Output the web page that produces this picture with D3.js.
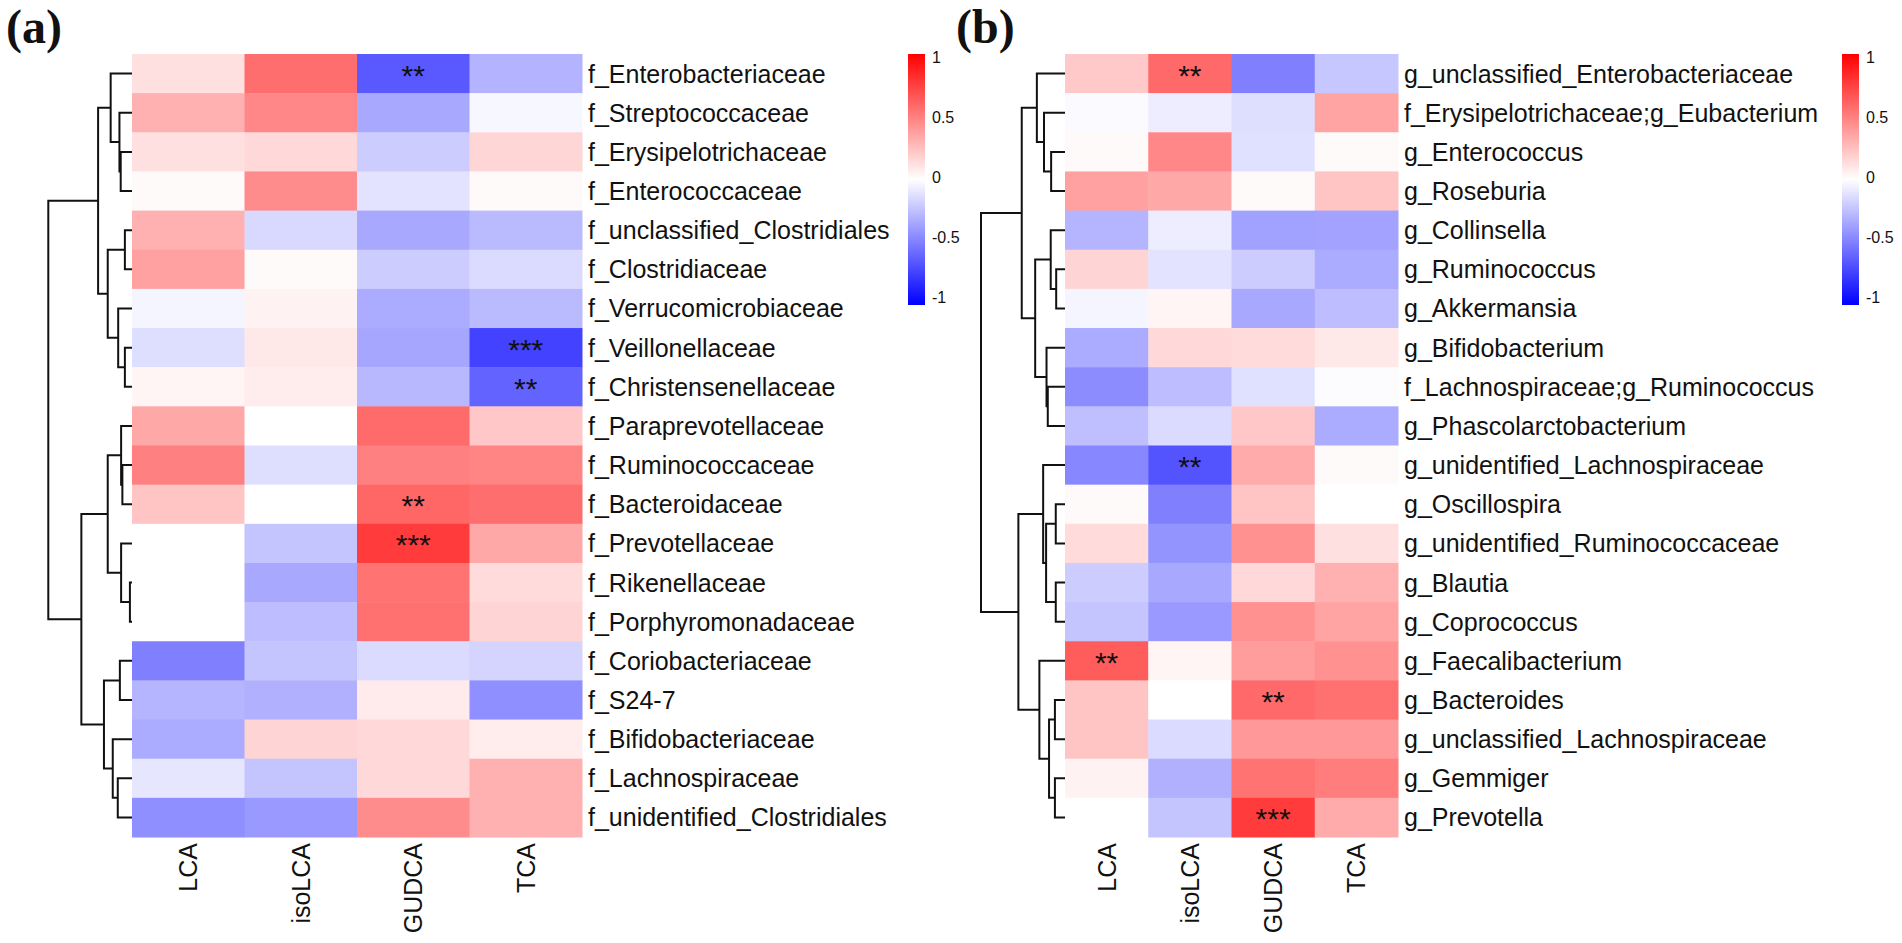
<!DOCTYPE html>
<html>
<head>
<meta charset="utf-8">
<script src="https://cdn.jsdelivr.net/npm/d3@7"></script>
<style>
  body { margin: 0; background: #fff; }
  svg { display: block; }
  text { font-family: "Liberation Sans", Arial, Helvetica, sans-serif; }
</style>
</head>
<body>
<svg id="chart"></svg>
<script>
// columns (bile acids)
const acids = ["LCA", "isoLCA", "GUDCA", "TCA"];

// panel (a) - families, in dendrogram order
const familyRows = [
  "f_Enterobacteriaceae", "f_Streptococcaceae", "f_Erysipelotrichaceae", "f_Enterococcaceae",
  "f_unclassified_Clostridiales", "f_Clostridiaceae", "f_Verrucomicrobiaceae", "f_Veillonellaceae",
  "f_Christensenellaceae", "f_Paraprevotellaceae", "f_Ruminococcaceae", "f_Bacteroidaceae",
  "f_Prevotellaceae", "f_Rikenellaceae", "f_Porphyromonadaceae", "f_Coriobacteriaceae",
  "f_S24-7", "f_Bifidobacteriaceae", "f_Lachnospiraceae", "f_unidentified_Clostridiales"
];
// correlation values  [LCA, isoLCA, GUDCA, TCA]
const familyValues = [
  [ 0.12,  0.57, -0.65, -0.30],
  [ 0.31,  0.47, -0.34, -0.03],
  [ 0.12,  0.15, -0.20,  0.16],
  [ 0.02,  0.45, -0.11,  0.02],
  [ 0.31, -0.15, -0.34, -0.27],
  [ 0.37,  0.02, -0.20, -0.14],
  [-0.04,  0.05, -0.33, -0.27],
  [-0.13,  0.09, -0.35, -0.74],
  [ 0.04,  0.07, -0.28, -0.61],
  [ 0.34,  0.00,  0.58,  0.22],
  [ 0.50, -0.13,  0.50,  0.48],
  [ 0.23,  0.00,  0.60,  0.57],
  [ 0.00, -0.23,  0.77,  0.34],
  [ 0.00, -0.34,  0.55,  0.14],
  [ 0.00, -0.26,  0.56,  0.17],
  [-0.50, -0.23, -0.14, -0.17],
  [-0.29, -0.31,  0.08, -0.44],
  [-0.33,  0.17,  0.15,  0.07],
  [-0.10, -0.23,  0.15,  0.31],
  [-0.44, -0.40,  0.45,  0.31]
];
// [row, column, mark]
const familyStars = [[0, 2, "**"], [7, 3, "***"], [8, 3, "**"], [11, 2, "**"], [12, 2, "***"]];
// hclust-style merges: negative = leaf (row index + 1), positive = earlier merge, then height
const familyMerge = [
  [-3, -4, 0.27], [-2, 1, 0.30], [-1, 2, 0.51],
  [-5, -6, 0.17], [-8, -9, 0.17], [-7, 5, 0.33], [4, 6, 0.58], [3, 7, 0.81],
  [-11, -12, 0.23], [-10, 9, 0.26], [-14, -15, 0.05], [-13, 11, 0.26], [10, 12, 0.58],
  [-16, -17, 0.29], [-19, -20, 0.34], [-18, 15, 0.46], [14, 16, 0.67],
  [13, 17, 1.21], [8, 18, 2.00]
];

// panel (b) - genera
const genusRows = [
  "g_unclassified_Enterobacteriaceae", "f_Erysipelotrichaceae;g_Eubacterium", "g_Enterococcus",
  "g_Roseburia", "g_Collinsella", "g_Ruminococcus", "g_Akkermansia", "g_Bifidobacterium",
  "f_Lachnospiraceae;g_Ruminococcus", "g_Phascolarctobacterium", "g_unidentified_Lachnospiraceae",
  "g_Oscillospira", "g_unidentified_Ruminococcaceae", "g_Blautia", "g_Coprococcus",
  "g_Faecalibacterium", "g_Bacteroides", "g_unclassified_Lachnospiraceae", "g_Gemmiger", "g_Prevotella"
];
const genusValues = [
  [ 0.21,  0.59, -0.50, -0.22],
  [-0.02, -0.07, -0.13,  0.36],
  [ 0.02,  0.47, -0.12,  0.02],
  [ 0.37,  0.34,  0.02,  0.23],
  [-0.29, -0.07, -0.37, -0.36],
  [ 0.17, -0.11, -0.20, -0.33],
  [-0.04,  0.04, -0.34, -0.26],
  [-0.33,  0.15,  0.14,  0.09],
  [-0.45, -0.26, -0.12, -0.01],
  [-0.25, -0.14,  0.22, -0.33],
  [-0.47, -0.67,  0.33,  0.02],
  [ 0.02, -0.50,  0.23,  0.00],
  [ 0.14, -0.42,  0.43,  0.12],
  [-0.20, -0.34,  0.15,  0.31],
  [-0.23, -0.40,  0.43,  0.36],
  [ 0.64,  0.04,  0.39,  0.43],
  [ 0.23,  0.00,  0.59,  0.56],
  [ 0.23, -0.14,  0.40,  0.40],
  [ 0.05, -0.31,  0.55,  0.51],
  [ 0.00, -0.23,  0.77,  0.33]
];
const genusStars = [[0, 1, "**"], [10, 1, "**"], [15, 0, "**"], [16, 2, "**"], [19, 2, "***"]];
const genusMerge = [
  [-3, -4, 0.33], [-2, 1, 0.50], [-1, 2, 0.67],
  [-6, -7, 0.21], [-5, 4, 0.34], [-9, -10, 0.41], [-8, 6, 0.44], [5, 7, 0.71], [3, 8, 1.03],
  [-12, -13, 0.22], [-14, -15, 0.22], [10, 11, 0.45], [-11, 12, 0.52],
  [-17, -18, 0.24], [-19, -20, 0.24], [14, 15, 0.38], [-16, 16, 0.61],
  [13, 17, 1.11], [9, 18, 2.00]
];

const legendTicks = [1, 0.5, 0, -0.5, -1];

// ---- layout ----
const W = 1902, H = 943;
const gridTop = 54, gridBottom = 837;

const svg = d3.select("#chart").attr("width", W).attr("height", H);

const color = d3.scaleLinear()
  .domain([-1, 0, 1])
  .range(["#0000ff", "#ffffff", "#ff0000"]);

function drawPanel(p) {
  const g = svg.append("g");

  const x = d3.scaleBand().domain(acids).range([p.left, p.left + p.cellW * acids.length]);
  const y = d3.scaleBand().domain(p.rows).range([gridTop, gridBottom]);

  // cells
  const cells = [];
  p.values.forEach((r, i) => r.forEach((v, j) => cells.push({ row: p.rows[i], col: acids[j], v })));
  g.selectAll(".cell")
    .data(cells)
    .enter()
    .append("rect")
    .attr("class", "cell")
    .attr("x", d => x(d.col))
    .attr("y", d => y(d.row))
    .attr("width", x.bandwidth() + 0.5)
    .attr("height", y.bandwidth() + 0.5)
    .attr("fill", d => color(d.v));

  // significance marks
  g.selectAll(".star")
    .data(p.stars)
    .enter()
    .append("text")
    .attr("class", "star")
    .attr("x", d => x(acids[d[1]]) + x.bandwidth() / 2)
    .attr("y", d => y(p.rows[d[0]]) + y.bandwidth() / 2 + 12)
    .attr("text-anchor", "middle")
    .style("font-size", "30px")
    .attr("fill", "#111")
    .text(d => d[2]);

  // row labels
  g.append("g")
    .attr("transform", `translate(${p.left + p.cellW * acids.length},0)`)
    .call(d3.axisRight(y).tickSize(0).tickPadding(6))
    .call(a => a.select(".domain").remove())
    .selectAll("text")
    .style("font-size", "25px")
    .attr("fill", "#111")
    .attr("dy", "0.36em");

  // column labels
  g.append("g")
    .attr("transform", `translate(0,${gridBottom})`)
    .call(d3.axisBottom(x).tickSize(0))
    .call(a => a.select(".domain").remove())
    .selectAll("text")
    .style("font-size", "25px")
    .attr("fill", "#111")
    .attr("text-anchor", "end")
    .attr("transform", "rotate(-90)")
    .attr("x", -6)
    .attr("y", 0)
    .attr("dy", "0.36em");

  // dendrogram
  const h = d3.scaleLinear().domain([0, 2]).range([p.left, p.rootX]);
  const nodes = [];
  const pos = k => k < 0
    ? { x: h(0), y: y(p.rows[-k - 1]) + y.bandwidth() / 2 }
    : nodes[k - 1];
  const links = [];
  p.merge.forEach(m => {
    const a = pos(m[0]), b = pos(m[1]), xm = h(m[2]);
    links.push({ a, b, xm });
    nodes.push({ x: xm, y: (a.y + b.y) / 2 });
  });
  g.selectAll(".branch")
    .data(links)
    .enter()
    .append("path")
    .attr("class", "branch")
    .attr("fill", "none")
    .attr("stroke", "#111")
    .attr("stroke-width", 2)
    .attr("d", d => `M${d.a.x},${d.a.y}H${d.xm}V${d.b.y}H${d.b.x}`);

  // colour key
  const gid = "grad" + p.id;
  const grad = svg.append("defs").append("linearGradient")
    .attr("id", gid)
    .attr("x1", 0).attr("y1", 1).attr("x2", 0).attr("y2", 0);
  [-1, -0.5, 0, 0.5, 1].forEach(v => {
    grad.append("stop").attr("offset", (v + 1) / 2).attr("stop-color", color(v));
  });
  g.append("rect")
    .attr("x", p.keyX)
    .attr("y", 54)
    .attr("width", 17)
    .attr("height", 251)
    .attr("fill", `url(#${gid})`);

  const ky = d3.scaleLinear().domain([-1, 1]).range([297, 57]);
  g.append("g")
    .attr("transform", `translate(${p.keyX + 17},0)`)
    .call(d3.axisRight(ky).tickValues(legendTicks).tickSize(0).tickPadding(7).tickFormat(d => String(d)))
    .call(a => a.select(".domain").remove())
    .selectAll("text")
    .style("font-size", "16px")
    .attr("fill", "#111");

  // panel tag
  svg.append("text")
    .attr("x", p.tagX)
    .attr("y", 43)
    .style("font-family", "'Liberation Serif', 'Times New Roman', serif")
    .style("font-weight", "bold")
    .style("font-size", "48px")
    .attr("fill", "#111")
    .text(p.tag);
}

drawPanel({
  id: "a", tag: "(a)", tagX: 6,
  rows: familyRows, values: familyValues, stars: familyStars, merge: familyMerge,
  left: 132, cellW: 112.5, rootX: 48.3, keyX: 908
});

drawPanel({
  id: "b", tag: "(b)", tagX: 956,
  rows: genusRows, values: genusValues, stars: genusStars, merge: genusMerge,
  left: 1065, cellW: 83.25, rootX: 981, keyX: 1842
});
</script>
</body>
</html>
